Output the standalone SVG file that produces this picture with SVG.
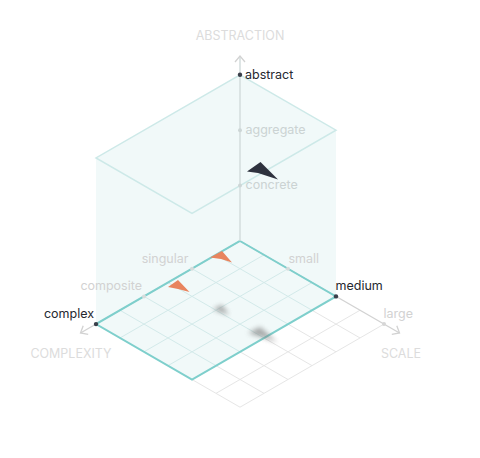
<svg xmlns="http://www.w3.org/2000/svg" width="480" height="458" viewBox="0 0 480 458">
<defs>
<style>
.t{font-family:Inter,"Liberation Sans",sans-serif;font-size:12.5px}
.dark{fill:#25282f}
.lt{fill:#d2d2d2}
.ltv{fill:#cbd3d3}
.ttl{fill:#dcdcdc}
.gg{stroke:#e6e6e6;stroke-width:1;fill:none}
.tg{stroke:#d3eaea;stroke-width:1;fill:none}
.ax{stroke:#d2d2d2;stroke-width:1.3;fill:none}
</style>
<marker id="chev" viewBox="-8 -6 10 12" markerWidth="10" markerHeight="12" refX="0" refY="0" orient="auto" markerUnits="userSpaceOnUse">
<path d="M-6,-5 L0,0 L-6,5" fill="none" stroke="#d2d2d2" stroke-width="1.3"/>
</marker>
<filter id="blur" x="-50%" y="-50%" width="200%" height="200%"><feGaussianBlur stdDeviation="2.4"/></filter>
</defs>
<rect width="480" height="458" fill="#ffffff"/>
<polygon id="volume" points="240,74.8 336,130.2 336,296.4 192,379.5 96,324.1 96,157.9" fill="#f1f9f9"/>
<g id="grid">
<g transform="matrix(48 27.7 -48 27.7 240 241)">
<g class="gg">
<path vector-effect="non-scaling-stroke" d="M2,0.5H3M2,1H3M2,1.5H3M2,2H3M2,2.5H3M2,3H3M2.5,0V3M3,0V3"/>
</g>
<g class="tg">
<path vector-effect="non-scaling-stroke" d="M0,0.5H2M0,1H2M0,1.5H2M0,2H2M0,2.5H2M0.5,0V3M1,0V3M1.5,0V3"/>
</g>
</g>
</g>
<g id="connectors">
<line id="axis-complexity" class="ax" x1="240" y1="241" x2="80.5" y2="333" marker-end="url(#chev)"/>
<line id="axis-scale" class="ax" x1="240" y1="241" x2="399.5" y2="333" marker-end="url(#chev)"/>
<polygon id="top-plane" points="240,74.8 336,130.2 192,213.3 96,157.9" fill="none" stroke="#cde9e8" stroke-width="1.5"/>
<polygon id="bottom-plane" points="240,241 336,296.4 192,379.5 96,324.1" fill="none" stroke="#7ecfcc" stroke-width="2"/>
<line id="axis-abstraction" x1="240" y1="241" x2="240" y2="56" stroke="#d3dcdc" stroke-width="1.5" marker-end="url(#chev)"/>
</g>
<g id="shadows" filter="url(#blur)" fill="#7a7a7a" opacity="0.65">
<polygon points="213,309 222,305 229,315 220,312"/>
<polygon points="248,333 260,327 277,342 262,337"/>
</g>
<g id="cone-dark"><polygon points="247,171.5 260.5,162 278,179.5 258,173" fill="#2e323e"/></g>
<g id="cone-orange-1"><polygon points="210,257.5 222,251 232,262.5 221,259" fill="#e8845e"/></g>
<g id="cone-orange-2"><polygon points="168,287 178,280 189.5,292 178,289" fill="#e8845e"/></g>
<g id="tick-abstract"><circle cx="240" cy="74.8" r="2.2" fill="#3a3f4a"/><text class="t dark" x="245" y="79">abstract</text></g>
<g id="tick-aggregate"><circle cx="240" cy="130.2" r="2" fill="#cdd6d6"/><text class="t ltv" x="245.5" y="134">aggregate</text></g>
<g id="tick-concrete"><circle cx="240" cy="185.6" r="2" fill="#cdd6d6"/><text class="t ltv" x="245.5" y="189">concrete</text></g>
<g id="tick-singular"><circle cx="192" cy="268.7" r="2" fill="#d6dcdc"/><text class="t lt" x="188.5" y="263" text-anchor="end">singular</text></g>
<g id="tick-composite"><circle cx="144" cy="296.4" r="2" fill="#d6dcdc"/><text class="t lt" x="142" y="290" text-anchor="end">composite</text></g>
<g id="tick-complex"><circle cx="96" cy="324.1" r="2.2" fill="#3a3f4a"/><text class="t dark" x="94" y="318" text-anchor="end">complex</text></g>
<g id="tick-small"><circle cx="288" cy="268.7" r="2" fill="#d6dcdc"/><text class="t lt" x="288.5" y="263">small</text></g>
<g id="tick-medium"><circle cx="336" cy="296.4" r="2.2" fill="#3a3f4a"/><text class="t dark" x="335.5" y="290">medium</text></g>
<g id="tick-large"><circle cx="384" cy="324.1" r="2" fill="#d6d6d6"/><text class="t lt" x="383.5" y="318">large</text></g>
<g id="title-abstraction"><text class="t ttl" x="240" y="40" text-anchor="middle">ABSTRACTION</text></g>
<g id="title-complexity"><text class="t ttl" x="71" y="358" text-anchor="middle">COMPLEXITY</text></g>
<g id="title-scale"><text class="t ttl" x="401" y="358" text-anchor="middle">SCALE</text></g>
</svg>
